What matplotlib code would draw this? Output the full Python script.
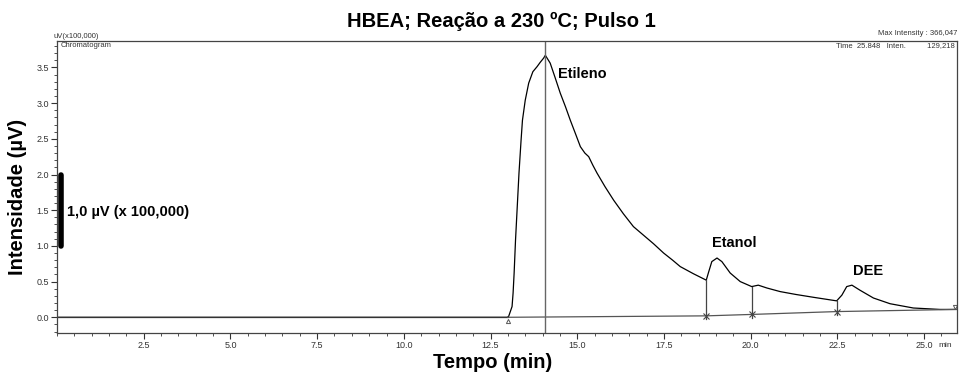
import numpy as np
import matplotlib.pyplot as plt
from matplotlib.ticker import MultipleLocator

plt.rcParams['font.family'] = ['Liberation Sans', 'DejaVu Sans']

# chromatogram trace (time in min, intensity in uV x 100,000)
tempo = [0.0, 12.98, 13.02, 13.12, 13.15, 13.18, 13.22, 13.27, 13.32, 13.38, 13.42,
         13.50, 13.60, 13.72, 13.84, 13.93, 14.03, 14.08, 14.22, 14.36, 14.51, 14.66,
         14.80, 14.95, 15.09, 15.22, 15.33, 15.45, 15.57, 15.80, 16.05, 16.33,
         16.62, 16.91, 17.20, 17.49, 17.75, 17.97, 18.35, 18.72, 18.78, 18.88,
         19.03, 19.17, 19.41, 19.70, 20.03, 20.22, 20.47, 20.85, 21.30, 21.81,
         22.48, 22.63, 22.77, 22.92, 23.15, 23.54, 24.02, 24.69, 25.46, 25.94]
intens = [0.0, 0.0, 0.01, 0.15, 0.34, 0.62, 1.08, 1.55, 2.02, 2.48, 2.76,
          3.04, 3.28, 3.44, 3.51, 3.57, 3.63, 3.67, 3.56, 3.36, 3.14, 2.95,
          2.76, 2.57, 2.39, 2.30, 2.25, 2.13, 2.02, 1.83, 1.64, 1.45,
          1.27, 1.15, 1.03, 0.90, 0.80, 0.71, 0.61, 0.52, 0.62, 0.78,
          0.83, 0.78, 0.62, 0.50, 0.43, 0.45, 0.41, 0.36, 0.32, 0.28,
          0.23, 0.31, 0.43, 0.45, 0.38, 0.27, 0.19, 0.13, 0.11, 0.11]

# integration baseline and peak cuts
base_t = [13.0, 18.72, 20.03, 22.48, 25.94]
base_v = [0.0, 0.02, 0.04, 0.08, 0.11]
corte_t = [18.72, 20.03, 22.48]
corte_topo = [0.52, 0.43, 0.23]
pico_t = 14.08

picos = ["Etileno", "Etanol", "DEE"]
picos_pos = [(14.45, 3.41), (18.88, 1.04), (22.95, 0.65)]

xticks = [2.5, 5.0, 7.5, 10.0, 12.5, 15.0, 17.5, 20.0, 22.5, 25.0]
yticks = [0.0, 0.5, 1.0, 1.5, 2.0, 2.5, 3.0, 3.5]

fig = plt.figure(figsize=(9.62, 3.79), dpi=100)
ax = fig.add_axes([0.0593, 0.1214, 0.9355, 0.7704])

ax.plot(tempo, intens, color="black", lw=0.9)
ax.plot([0, 13.0], [0, 0], color="#333333", lw=0.9)
ax.plot(base_t, base_v, color="#555555", lw=0.9)
ax.axvline(pico_t, color="#666666", lw=1.0)
for t, v0, v1 in zip(corte_t, base_v[1:4], corte_topo):
    ax.plot([t, t], [v0 - 0.05, v1], color="#444444", lw=0.9)
    ax.plot(t, v0, marker="x", ms=4, color="#444444", mew=0.8)
ax.plot(13.0, -0.05, marker="^", ms=3, mfc="none", color="#555555", mew=0.7)
ax.plot(25.9, 0.15, marker="v", ms=3, mfc="none", color="#555555", mew=0.7)

for nome, (x, y) in zip(picos, picos_pos):
    ax.text(x, y, nome, fontsize=10.5, fontweight="bold", ha="left", va="center")

# scale bar
ax.plot([0.12, 0.12], [1.0, 2.0], color="black", lw=4, solid_capstyle="round")
ax.text(0.3, 1.48, "1,0 µV (x 100,000)", fontsize=10.5, fontweight="bold", va="center")

ax.set_xlim(0, 25.95)
ax.set_ylim(-0.22, 3.87)
ax.set_xticks(xticks)
ax.set_yticks(yticks)
ax.xaxis.set_minor_locator(MultipleLocator(0.5))
ax.yaxis.set_minor_locator(MultipleLocator(0.1))
ax.tick_params(which="major", length=4, width=0.8, labelsize=6.5, colors="#333333", pad=2)
ax.tick_params(which="minor", length=2, width=0.6, colors="#333333")
for s in ax.spines.values():
    s.set_color("#444444")
    s.set_linewidth(0.9)

fig.text(501 / 962, 1 - 21 / 379, "HBEA; Reação a 230 ºC; Pulso 1", fontsize=14.5,
         fontweight="bold", ha="center", va="center")
fig.text(493 / 962, 1 - 362 / 379, "Tempo (min)", fontsize=14.5, fontweight="bold",
         ha="center", va="center")
fig.text(18 / 962, 1 - 197 / 379, "Intensidade (µV)", fontsize=14.5, fontweight="bold",
         ha="center", va="center", rotation=90)

# instrument annotations
ax.text(-0.004, 1.003, "uV(x100,000)", transform=ax.transAxes, fontsize=5.5, color="#333333", va="bottom")
ax.text(0.004, 0.995, "Chromatogram", transform=ax.transAxes, fontsize=5.5, color="#333333", va="top")
ax.text(1.0, 1.015, "Max Intensity : 366,047", transform=ax.transAxes, fontsize=5.5,
        color="#333333", ha="right", va="bottom")
ax.text(0.997, 0.995, "Time  25.848   Inten.          129,218", transform=ax.transAxes,
        fontsize=5.5, color="#333333", ha="right", va="top")
ax.text(0.995, -0.03, "min", transform=ax.transAxes, fontsize=6, color="#333333", ha="right", va="top")

fig.savefig("out.png", dpi=100)
